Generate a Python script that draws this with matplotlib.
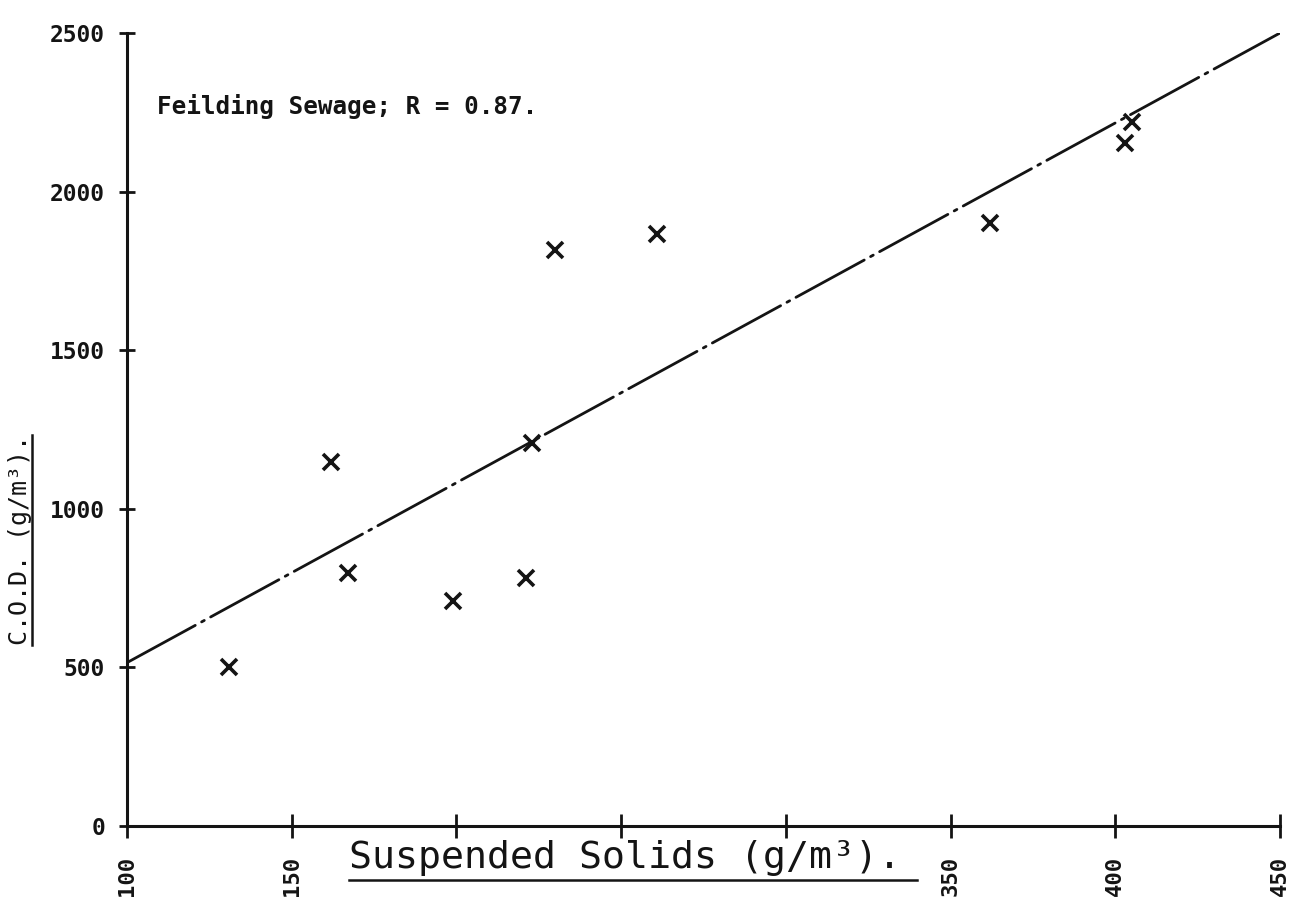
import matplotlib
matplotlib.use("Agg")
import matplotlib.pyplot as plt
from matplotlib.lines import Line2D

# Suspended solids (g/m3) and C.O.D. (g/m3) for Feilding sewage samples
suspended_solids = [131, 162, 167, 199, 221, 223, 230, 261, 362, 403, 405]
cod = [500, 1148, 798, 709, 782, 1207, 1816, 1866, 1901, 2153, 2219]

# Fitted regression line end points
fit_x = [100, 450]
fit_y = [515, 2500]

x_ticks = [100, 150, 200, 250, 300, 350, 400, 450]
x_tick_labels = ["100", "150", "", "", "", "350", "400", "450"]
y_ticks = [0, 500, 1000, 1500, 2000, 2500]
y_tick_labels = ["0", "500", "1000", "1500", "2000", "2500"]

annotation = "Feilding Sewage; R = 0.87."
x_label = "Suspended Solids (g/m³)."
y_label = "C.O.D. (g/m³)."

INK = "#141414"
MONO = "DejaVu Sans Mono"

fig = plt.figure(figsize=(13, 9.14), dpi=100)
fig.patch.set_facecolor("white")
W, H = 1300, 914
ax = fig.add_axes([127 / W, (H - 826) / H, (1280 - 127) / W, (826 - 33) / H])
ax.set_facecolor("white")

ax.set_xlim(100, 450)
ax.set_ylim(0, 2500)

for side in ("top", "right"):
    ax.spines[side].set_visible(False)
for side in ("left", "bottom"):
    ax.spines[side].set_linewidth(2.2)
    ax.spines[side].set_color(INK)

ax.set_xticks(x_ticks)
ax.set_xticklabels(x_tick_labels, rotation=90, fontfamily=MONO,
                   fontweight="bold", fontsize=16, color=INK)
ax.set_yticks(y_ticks)
ax.set_yticklabels(y_tick_labels, fontfamily=MONO, fontweight="bold",
                   fontsize=16.5, color=INK)
ax.tick_params(axis="x", direction="inout", length=17, width=2.0,
               color=INK, pad=13)
ax.tick_params(axis="y", direction="inout", length=11.5, width=2.0,
               color=INK, pad=10)

# Regression line (long dash - dot)
ax.plot(fit_x, fit_y, color=INK, lw=2.0,
        linestyle=(0, (28, 2.6, 1.1, 2.6)), dash_capstyle="round")

# Observations
ax.plot(suspended_solids, cod, linestyle="none", marker="x", ms=11,
        mew=2.6, color=INK)

ax.text(109, 2267, annotation, fontfamily=MONO, fontweight="bold",
        fontsize=17.5, color=INK, va="center", ha="left")

# Axis titles, underlined
xl = fig.text(349 / W, 1 - 858 / H, x_label, fontfamily=MONO,
              fontsize=27.5, color=INK, ha="left", va="center")
yl = fig.text(20 / W, 1 - 540 / H, y_label, fontfamily=MONO,
              fontsize=18, color=INK, rotation=90, ha="center",
              va="center")

fig.canvas.draw()
inv = fig.transFigure.inverted()
bb = xl.get_window_extent().transformed(inv)
fig.add_artist(Line2D([bb.x0, bb.x1 + 16 / W], [bb.y0 - 0.004, bb.y0 - 0.004],
                      transform=fig.transFigure, color=INK, lw=1.8))
bb = yl.get_window_extent().transformed(inv)
fig.add_artist(Line2D([32 / W, 32 / W], [bb.y0, bb.y1],
                      transform=fig.transFigure, color=INK, lw=1.8))

fig.savefig("out.png", dpi=100, facecolor="white")
